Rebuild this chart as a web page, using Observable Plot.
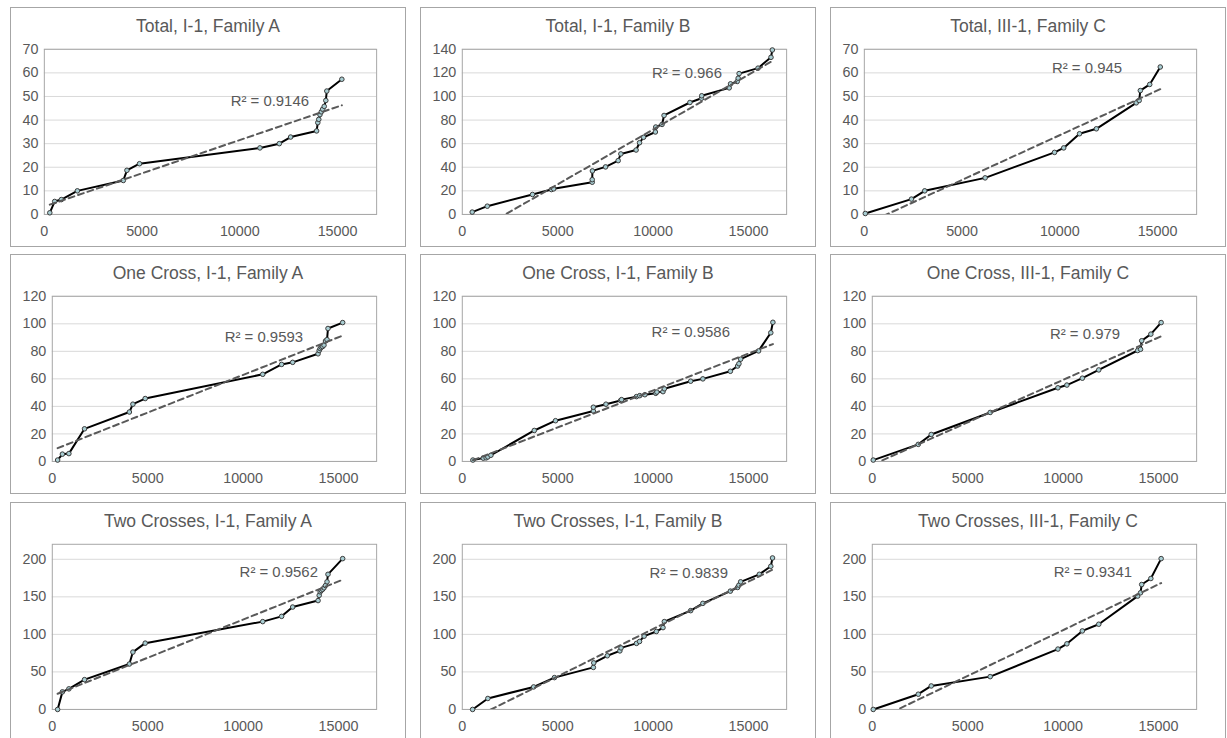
<!DOCTYPE html>
<html><head><meta charset="utf-8">
<script src="https://cdn.jsdelivr.net/npm/d3@7"></script>
<script src="https://cdn.jsdelivr.net/npm/@observablehq/plot@0.6"></script>
<style>
body{margin:0;background:#fff;}
#wrap{position:relative;width:1227px;height:738px;overflow:hidden;background:#fff;font-family:"Liberation Sans",Arial,sans-serif;}
.panel{position:absolute;box-sizing:border-box;width:396px;height:240px;border:1px solid #a6a6a6;background:#fff;overflow:hidden;}
.title{position:absolute;left:0;right:0;top:8px;text-align:center;font-size:17.5px;color:#595959;line-height:20px;white-space:nowrap;}
.panel svg{position:absolute;left:-1px;top:-1px;}
</style></head><body><div id="wrap"></div>
<script>
// ---- data ----
const titles = [
  "Total, I-1, Family A", "Total, I-1, Family B", "Total, III-1, Family C",
  "One Cross, I-1, Family A", "One Cross, I-1, Family B", "One Cross, III-1, Family C",
  "Two Crosses, I-1, Family A", "Two Crosses, I-1, Family B", "Two Crosses, III-1, Family C"
];
const r2Labels = ["R² = 0.9146", "R² = 0.966", "R² = 0.945", "R² = 0.9593", "R² = 0.9586", "R² = 0.979", "R² = 0.9562", "R² = 0.9839", "R² = 0.9341"];
const xTicks = [0, 5000, 10000, 15000];
const yTicks70 = [0, 10, 20, 30, 40, 50, 60, 70];
const yTicks140 = [0, 20, 40, 60, 80, 100, 120, 140];
const yTicks120 = [0, 20, 40, 60, 80, 100, 120];
const yTicks200 = [0, 50, 100, 150, 200];

// Family A positions (shared by its three panels)
const famA_x = [280, 530, 870, 1690, 4040, 4225, 4870, 11030, 12020, 12600, 13930, 13990, 14040, 14100, 14170, 14240, 14320, 14400, 14450, 15220];
const totalA_y = [0.7, 5.5, 6.3, 10, 14.4, 18.7, 21.5, 28.2, 30, 32.8, 35.4, 38.9, 40.3, 42.3, 43.5, 44.6, 45.8, 48.3, 52.3, 57.3];
const oneA_y   = [1, 5.3, 5.7, 23.7, 35.9, 41.6, 45.7, 63.3, 70.5, 72, 78.2, 80.6, 82, 83, 83.5, 84.5, 87.5, 88.5, 96.6, 100.9];
const twoA_y   = [0, 23.4, 27.4, 39.7, 60.5, 76.4, 88.3, 117, 124, 136.4, 145, 152, 156.7, 158.5, 160, 162, 165, 170, 180, 200.9];

// Family B
const totalB_x = [520, 1310, 3680, 4670, 4790, 6810, 6810, 6820, 7510, 8170, 8310, 9110, 9290, 9500, 10120, 10140, 10470, 10575, 11930, 12540, 12550, 13990, 14060, 14410, 14460, 14510, 15500, 16180, 16250];
const totalB_y = [2, 7, 16.9, 21.1, 21.7, 27.3, 29.5, 36.9, 40.3, 45.6, 51.3, 54.6, 60.8, 65.4, 69.9, 74.1, 76.3, 83.9, 94.9, 98.5, 100.6, 107.3, 110.7, 112.7, 115.5, 119.4, 124, 133.2, 139.4];
const oneB_x = [556, 1100, 1250, 1340, 1500, 3774, 4887, 6870, 6870, 7530, 8300, 8350, 9130, 9300, 9570, 10140, 10200, 10520, 10590, 11970, 12610, 14050, 14430, 14500, 14590, 15530, 16170, 16280];
const oneB_y = [1, 2.4, 2.6, 3.3, 4.5, 22.5, 29.6, 36.6, 39.4, 41.6, 44.3, 44.9, 47.1, 47.8, 48.5, 49.5, 50.4, 50.7, 52.8, 58.3, 60, 65.5, 69.3, 71, 74.3, 80.3, 93.5, 101.1];
const twoB_x = [540, 1340, 3740, 4830, 6870, 6890, 7600, 8260, 8320, 9130, 9290, 9530, 10170, 10520, 10590, 11970, 12610, 14050, 14430, 14500, 14590, 15570, 16170, 16260];
const twoB_y = [0, 14.6, 30, 42.4, 56, 62, 71.5, 78, 82, 88, 90.5, 97.6, 103.8, 109, 117, 131.6, 141.3, 157.6, 162.5, 165.6, 170, 180, 190.7, 201.8];

// Family C positions (shared)
const famC_x = [50, 2410, 3090, 6180, 9730, 10200, 11010, 11870, 13910, 14060, 14120, 14600, 15140];
const totalC_y = [0.4, 6.5, 10, 15.5, 26.3, 28.2, 34.2, 36.3, 47.3, 48.3, 52.5, 55.1, 62.5];
const oneC_y   = [1, 12.4, 19.6, 35.6, 53.5, 55.5, 60.5, 66.5, 80.6, 81.5, 87.7, 92.5, 100.9];
const twoC_y   = [0, 20.3, 31.3, 43.7, 80.4, 87.4, 104.6, 113.5, 151, 155.4, 166.4, 174.4, 200.9];

// ---- layout (not data) ----
const seriesX = [famA_x, totalB_x, famC_x, famA_x, oneB_x, famC_x, famA_x, twoB_x, famC_x];
const seriesY = [totalA_y, totalB_y, totalC_y, oneA_y, oneB_y, oneC_y, twoA_y, twoB_y, twoC_y];
const yTickSets = [yTicks70, yTicks140, yTicks70, yTicks120, yTicks120, yTicks120, yTicks200, yTicks200, yTicks200];
const yMax = [70, 140, 70, 120, 120, 120, 220, 220, 220];
const labelOffsets = [[-68, 46], [-65, 18], [-75, 13], [-74, 35], [-57, 30], [-77, 32], [-59, 22], [-59, 23], [-65, 22]];
const colLeft = [10, 420, 830];
const rowTop = [7, 254, 502];

const wrap = document.getElementById("wrap");
for (let i = 0; i < 9; i++) {
  const r = Math.floor(i / 3), c = i % 3;
  const panel = document.createElement("div");
  panel.className = "panel";
  panel.style.left = colLeft[c] + "px";
  panel.style.top = rowTop[r] + "px";
  const t = document.createElement("div");
  t.className = "title";
  t.textContent = titles[i];
  panel.appendChild(t);

  const data = seriesX[i].map((x, k) => ({x, y: seriesY[i][k]}));
  const ticks = yTickSets[i];
  const ml = yMax[i] >= 100 ? 42 : 34;
  const [dx, dy] = labelOffsets[i];
  const chart = Plot.plot({
    width: 396, height: 240,
    marginLeft: ml, marginRight: 28, marginTop: 42, marginBottom: 32,
    x: {domain: [0, 17000], label: null},
    y: {domain: [0, yMax[i]], label: null},
    style: {fontFamily: '"Liberation Sans", Arial, sans-serif', fontSize: "14.4px", color: "#595959", background: "transparent"},
    marks: [
      Plot.gridY(ticks, {stroke: "#d9d9d9", strokeOpacity: 1}),
      Plot.frame({stroke: "#a6a6a6"}),
      Plot.axisX(xTicks, {tickSize: 0, tickPadding: 11, tickFormat: d3.format("d"), fontSize: 14.4, label: null}),
      Plot.axisY(ticks, {tickSize: 0, tickPadding: 6, fontSize: 14.4, label: null}),
      Plot.line(data, {x: "x", y: "y", stroke: "#000", strokeWidth: 2}),
      Plot.dot(data, {x: "x", y: "y", r: 2.3, fill: "#a8cdd2", stroke: "#3a3a3a", strokeWidth: 1}),
      Plot.linearRegressionY(data, {x: "x", y: "y", ci: 0, stroke: "#595959", strokeWidth: 2, strokeDasharray: "6,4", clip: true}),
      Plot.text([r2Labels[i]], {frameAnchor: "top-right", text: d => d, textAnchor: "end", dx, dy, fontSize: 15, fill: "#595959"})
    ]
  });
  panel.appendChild(chart);
  wrap.appendChild(panel);
}
</script></body></html>
